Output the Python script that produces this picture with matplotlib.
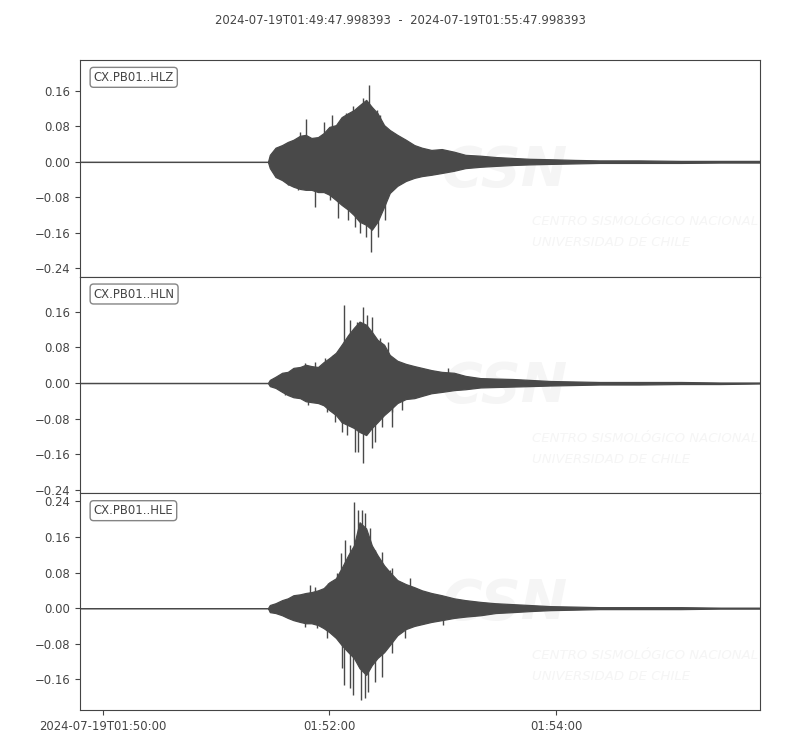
import matplotlib
matplotlib.use('Agg')
import matplotlib.pyplot as plt
from matplotlib.ticker import MultipleLocator

# seconds after 2024-07-19T01:49:47.998393, envelope
times = [0.0, 99.5, 100.5, 103.5, 107, 110, 113, 116.5, 119.5, 122.5, 126, 129,
         132, 135.5, 138.5, 142, 145, 148, 151.5, 154.5, 157.5, 161, 164, 168,
         172.5, 177, 181, 186, 191.5, 198, 204, 212, 220, 229, 238, 249, 262,
         275, 296, 318, 339, 360]

hlz_up = [0, 0, 0.016, 0.032, 0.038, 0.045, 0.050, 0.059, 0.061, 0.054, 0.056, 0.065,
          0.079, 0.083, 0.101, 0.110, 0.117, 0.128, 0.140, 0.124, 0.110, 0.083, 0.072, 0.061,
          0.050, 0.038, 0.032, 0.027, 0.029, 0.023, 0.016, 0.014, 0.011, 0.009, 0.007, 0.006,
          0.0045, 0.0034, 0.0034, 0.0023, 0.0023, 0.0023]
hlz_lo = [0, 0, -0.014, -0.034, -0.041, -0.050, -0.056, -0.061, -0.063, -0.063, -0.068, -0.068,
          -0.074, -0.086, -0.097, -0.108, -0.120, -0.135, -0.142, -0.153, -0.135, -0.101, -0.070, -0.054,
          -0.043, -0.036, -0.032, -0.029, -0.025, -0.020, -0.014, -0.011, -0.009, -0.007, -0.0056, -0.0045,
          -0.0034, -0.0023, -0.0023, -0.0023, -0.0015, -0.0015]

hln_up = [0, 0, 0.007, 0.014, 0.023, 0.025, 0.034, 0.036, 0.041, 0.038, 0.036, 0.047,
          0.056, 0.068, 0.086, 0.108, 0.124, 0.138, 0.131, 0.115, 0.097, 0.086, 0.063, 0.050,
          0.043, 0.038, 0.034, 0.029, 0.025, 0.023, 0.016, 0.011, 0.010, 0.009, 0.007, 0.0045,
          0.0034, 0.0023, 0.0023, 0.0023, 0.0011, 0.0011]
hln_lo = [0, 0, -0.007, -0.011, -0.020, -0.027, -0.032, -0.034, -0.041, -0.043, -0.045, -0.050,
          -0.061, -0.072, -0.088, -0.095, -0.101, -0.110, -0.117, -0.101, -0.088, -0.072, -0.061, -0.045,
          -0.036, -0.034, -0.029, -0.023, -0.020, -0.016, -0.014, -0.010, -0.009, -0.008, -0.007, -0.0056,
          -0.0045, -0.0034, -0.0034, -0.0023, -0.0023, -0.0011]

hle_up = [0, 0, 0.007, 0.011, 0.018, 0.022, 0.029, 0.031, 0.034, 0.036, 0.040, 0.045,
          0.058, 0.067, 0.090, 0.119, 0.141, 0.193, 0.179, 0.141, 0.119, 0.096, 0.081, 0.063,
          0.054, 0.047, 0.040, 0.034, 0.029, 0.022, 0.018, 0.014, 0.011, 0.009, 0.007, 0.0045,
          0.0034, 0.0022, 0.0022, 0.0022, 0.0011, 0.0011]
hle_lo = [0, 0, -0.009, -0.011, -0.016, -0.022, -0.027, -0.031, -0.034, -0.034, -0.038, -0.045,
          -0.054, -0.067, -0.083, -0.099, -0.112, -0.135, -0.150, -0.128, -0.112, -0.099, -0.083, -0.061,
          -0.047, -0.040, -0.036, -0.031, -0.027, -0.022, -0.019, -0.016, -0.011, -0.009, -0.0067, -0.0045,
          -0.0034, -0.0022, -0.0022, -0.0022, -0.0011, -0.0011]

# single swings standing out of the envelope
hlz_spike_t = [110.0, 115.3, 116.4, 119.5, 124.3, 129.1, 132.3, 133.3, 136.5, 140.8, 141.8,
               144.5, 145.5, 148.2, 149.7, 151.4, 152.9, 154.0, 157.2, 157.7, 158.8, 161.3]
hlz_spike_v = [-0.052, -0.063, 0.068, 0.097, -0.101, 0.090, -0.086, 0.106, -0.126, 0.110, -0.131,
               0.126, -0.147, -0.160, 0.144, -0.169, 0.174, -0.203, 0.117, -0.169, 0.106, -0.131]
hln_spike_t = [108.4, 119.0, 120.6, 124.3, 129.6, 130.7, 133.9, 134.9, 138.6, 139.7, 141.3,
               142.9, 145.5, 146.6, 147.1, 149.7, 149.7, 151.9, 154.5, 154.5, 156.1, 158.8,
               159.8, 163.0, 165.1, 165.1, 170.4, 194.8]
hln_spike_v = [-0.027, 0.045, -0.050, 0.047, 0.056, -0.065, 0.063, -0.088, -0.110, 0.176, -0.117,
               0.142, -0.156, 0.137, -0.156, 0.171, -0.180, 0.153, -0.147, 0.149, -0.133, 0.101,
               -0.099, 0.092, -0.065, -0.099, -0.061, 0.034]
hle_spike_t = [119.0, 121.7, 124.3, 125.4, 130.7, 131.2, 135.9, 138.1, 138.6, 139.7, 140.2,
               142.9, 142.9, 144.5, 145.0, 147.1, 148.7, 149.2, 150.8, 150.8, 152.4, 153.5,
               156.1, 156.1, 159.8, 159.8, 164.1, 165.1, 165.1, 172.0, 174.6, 192.1]
hle_spike_v = [-0.043, 0.052, 0.047, -0.045, -0.067, 0.056, 0.079, 0.123, -0.135, -0.173, 0.153,
               0.141, -0.179, -0.195, 0.238, 0.220, -0.206, 0.220, 0.213, -0.202, -0.188, 0.179,
               0.130, -0.166, 0.126, -0.155, 0.085, 0.090, -0.101, -0.067, 0.067, -0.038]

labels = ['CX.PB01..HLZ', 'CX.PB01..HLN', 'CX.PB01..HLE']
ylims = [(-0.259, 0.230), (-0.248, 0.239), (-0.229, 0.258)]
tick_pos = [12, 132, 252]
tick_labels = ['2024-07-19T01:50:00', '01:52:00', '01:54:00']
title = '2024-07-19T01:49:47.998393  -  2024-07-19T01:55:47.998393'

traces = [(hlz_up, hlz_lo, hlz_spike_t, hlz_spike_v),
          (hln_up, hln_lo, hln_spike_t, hln_spike_v),
          (hle_up, hle_lo, hle_spike_t, hle_spike_v)]

wave = '#494949'
txt = '#444444'
mark = '#f5f5f5'
small = 8.33
narrow = ['DejaVu Sans Condensed', 'Liberation Sans Narrow', 'DejaVu Sans']

fig = plt.figure(figsize=(8, 7.5), dpi=100)
fig.suptitle(title, y=0.973, fontsize=small, color=txt, va='center')

bottom, top = 0.0533, 0.92
h = (top - bottom) / 3
for i, (up, lo, st, sv) in enumerate(traces):
    ax = fig.add_axes([0.1, top - (i + 1) * h, 0.85, h])

    # faint CSN watermark
    ax.text(0.625, 0.49, 'CSN', transform=ax.transAxes, ha='center', va='center',
            fontsize=40, fontweight='bold', style='italic', color=mark, zorder=0)
    ax.text(0.665, 0.253, 'CENTRO SISMOLÓGICO NACIONAL', transform=ax.transAxes,
            ha='left', va='center', fontsize=9.5, style='italic', color=mark,
            family=narrow, zorder=0, clip_on=True)
    ax.text(0.665, 0.157, 'UNIVERSIDAD DE CHILE', transform=ax.transAxes,
            ha='left', va='center', fontsize=9.5, style='italic', color=mark,
            family=narrow, zorder=0, clip_on=True)

    ax.fill_between(times, lo, up, color=wave, edgecolor=wave, linewidth=0.9, zorder=2)
    ax.vlines(st, 0, sv, color=wave, linewidth=1.0, zorder=2)

    ax.set_xlim(0, 360)
    ax.set_ylim(*ylims[i])
    ax.yaxis.set_major_locator(MultipleLocator(0.08))
    ax.set_xticks(tick_pos)
    if i < 2:
        ax.tick_params(axis='x', bottom=False, labelbottom=False)
    else:
        ax.set_xticklabels(tick_labels)
    ax.tick_params(labelsize=small, colors=txt)
    for sp in ax.spines.values():
        sp.set_color(txt)

    ax.text(0.02, 0.95, labels[i], transform=ax.transAxes, ha='left', va='top',
            fontsize=small, color=txt, zorder=5,
            bbox=dict(boxstyle='round', fc='w', ec='#666666', alpha=0.8))

plt.savefig('out.png', dpi=100)
